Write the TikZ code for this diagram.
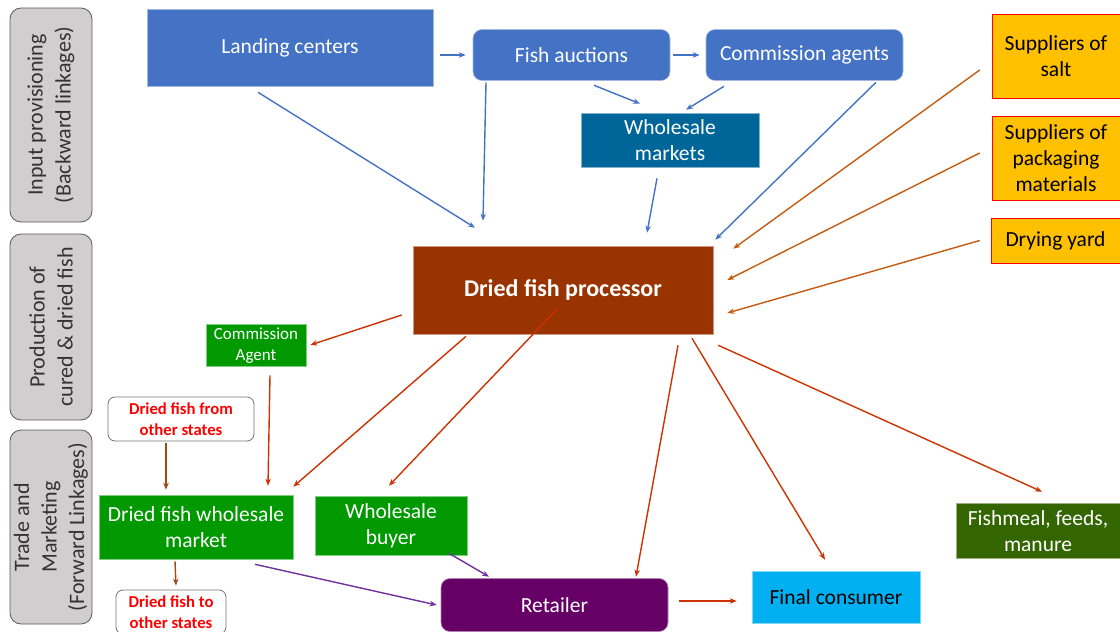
\documentclass[tikz,border=0pt]{standalone}
\usepackage{fontspec}
\setmainfont{Carlito}
\usetikzlibrary{arrows.meta}
\definecolor{stagegray}{HTML}{D0CECE}
\definecolor{ppblue}{HTML}{4472C4}
\definecolor{tealblue}{HTML}{00669A}
\definecolor{gold}{HTML}{FFC000}
\definecolor{leafgreen}{HTML}{009900}
\definecolor{olivegreen}{HTML}{336600}
\definecolor{plum}{HTML}{660066}
\definecolor{skyblue}{HTML}{00B0F0}
\definecolor{rust}{HTML}{993300}
\definecolor{supplyorange}{HTML}{C55A11}
\definecolor{outred}{HTML}{CC3300}
\definecolor{tradebrown}{HTML}{9C4A1A}
\definecolor{tradepurple}{HTML}{7030A0}
\begin{document}
\begin{tikzpicture}[x=1pt, y=-1pt, >={Stealth[length=7pt,width=5.5pt]},
  stage/.style={rotate=90, draw=black!65, fill=stagegray, rounded corners=11pt, line width=0.8pt,
    inner sep=0pt, minimum height=82pt, align=center, text=black!80, font=\fontsize{22}{28}\selectfont},
  box/.style={inner sep=0pt, align=center, text=white, font=\fontsize{21.5}{26}\selectfont, line width=0.6pt},
  source/.style={box, draw=white!50!#1, fill=#1},
  supply/.style={box, draw=red, fill=gold, text=black},
  otherstate/.style={inner sep=0pt, align=center, draw=black!55, rounded corners=7pt, line width=0.8pt,
    text=red, font=\bfseries\fontsize{16.7}{21}\selectfont},
  flow/.style={->, line width=1.4pt, draw=#1}]
\useasboundingbox (0,0) rectangle (1120,632);
\node[stage, minimum width=214pt] (inp) at (51,115) {Input provisioning\\(Backward linkages)};
\node[stage, minimum width=186pt] (prod) at (51,327) {Production of\\cured \& dried fish};
\node[stage, minimum width=194pt, font=\fontsize{22}{27.5}\selectfont] (trade) at (51,527) {Trade and\\Marketing\\(Forward Linkages)};

\node[source=ppblue, minimum width=286pt, minimum height=77pt] (land) at (290,47.5) {Landing centers};
\node[source=ppblue, rounded corners=9pt, minimum width=197pt, minimum height=51pt] (auct) at (571.5,55) {Fish auctions};
\node[source=ppblue, rounded corners=9pt, minimum width=197pt, minimum height=51pt] (comm) at (804.5,55) {Commission agents};
\node[source=tealblue, minimum width=178pt, minimum height=54pt] (whm) at (670,140.5) {Wholesale\\markets};
\node[supply, minimum width=128pt, minimum height=84pt] (salt) at (1056,56.5) {Suppliers of\\salt};
\node[supply, minimum width=128pt, minimum height=84pt] (pack) at (1056,158) {Suppliers of\\packaging\\materials};
\node[supply, minimum width=129pt, minimum height=45pt] (yard) at (1055.5,241) {Drying yard};
\node[source=rust, minimum width=300pt, minimum height=88pt, font=\bfseries\fontsize{24}{29}\selectfont] (proc) at (563,290) {Dried fish processor};
\node[source=leafgreen, minimum width=100pt, minimum height=42pt, font=\fontsize{17}{21}\selectfont] (cagent) at (256,345.5) {Commission\\Agent};
\node[otherstate, minimum width=146pt, minimum height=44pt] (dfrom) at (181,419) {Dried fish from\\other states};
\node[source=leafgreen, minimum width=194pt, minimum height=64pt] (dfwm) at (196,527.5) {Dried fish wholesale\\market};
\node[source=leafgreen, minimum width=152pt, minimum height=59pt] (wbuy) at (391,526) {Wholesale\\buyer};
\node[otherstate, minimum width=110pt, minimum height=44pt] (dto) at (171,612) {Dried fish to\\other states};
\node[source=plum, rounded corners=9pt, minimum width=227pt, minimum height=53pt] (ret) at (554.5,605) {Retailer};
\node[source=skyblue, text=black, minimum width=168pt, minimum height=52pt] (final) at (836,597.5) {Final consumer};
\node[source=olivegreen, minimum width=164pt, minimum height=55pt] (fmeal) at (1038,531) {Fishmeal, feeds,\\manure};

\draw[flow=ppblue] ([shift={(7,7.5)}]land.east) -- ([xshift=-7pt]auct.west);
\draw[flow=ppblue] ([xshift=3pt]auct.east) -- ([xshift=-6pt]comm.west);
\draw[flow=ppblue] ([shift={(-32,6)}]land.south) -- ([shift={(-88,-18)}]proc.north);
\draw[flow=ppblue] ([shift={(-85.5,1.5)}]auct.south) -- ([shift={(-80,-25)}]proc.north);
\draw[flow=ppblue] ([shift={(22.5,4.5)}]auct.south) -- ([shift={(-30,-9.5)}]whm.north);
\draw[flow=ppblue] ([shift={(-80.5,5.5)}]comm.south) -- ([shift={(16,-3.5)}]whm.north);
\draw[flow=ppblue] ([shift={(-13,10.5)}]whm.south) -- ([shift={(84,-13)}]proc.north);
\draw[flow=ppblue] ([shift={(71.5,1.5)}]comm.south) -- ([shift={(2,-6)}]proc.north east);
\draw[flow=supplyorange] ([shift={(-12,13.5)}]salt.west) -- ([shift={(20,3)}]proc.north east);
\draw[flow=supplyorange] ([shift={(-12,-5)}]pack.west) -- ([shift={(14,-10)}]proc.east);
\draw[flow=supplyorange] ([shift={(-11,-0.5)}]yard.west) -- ([shift={(14,23)}]proc.east);
\draw[flow=outred] ([shift={(-11,25)}]proc.west) -- ([shift={(4,-0.5)}]cagent.east);
\draw[flow=outred] ([shift={(-97,2)}]proc.south) -- ([shift={(0,-8.5)}]dfwm.north east);
\draw[flow=outred] ([shift={(-6,19)}]proc.center) -- ([shift={(-2,-10.5)}]wbuy.north);
\draw[flow=outred] ([shift={(115,11)}]proc.south) -- ([shift={(81.5,-1.5)}]ret.north);
\draw[flow=outred] ([shift={(129,4)}]proc.south) -- ([shift={(-11,-11.5)}]final.north);
\draw[flow=outred] ([shift={(5,11)}]proc.south east) -- ([shift={(4,-11.5)}]fmeal.north);
\draw[flow=outred] ([shift={(14,8.5)}]cagent.south) -- ([shift={(72,-9.5)}]dfwm.north);
\draw[flow=outred] ([shift={(11,-4)}]ret.east) -- ([shift={(-15,3.5)}]final.west);
\draw[flow=tradebrown] ([shift={(-15,2)}]dfrom.south) -- ([shift={(-30,-5.5)}]dfwm.north);
\draw[flow=tradebrown] ([shift={(-21,1.5)}]dfwm.south) -- ([shift={(5,-4)}]dto.north);
\draw[flow=tradepurple] ([shift={(59,4.5)}]dfwm.south) -- ([shift={(-4,0)}]ret.west);
\draw[flow=tradepurple] ([shift={(58,-2.5)}]wbuy.south) -- ([shift={(-65.5,-1.5)}]ret.north);
\end{tikzpicture}
\end{document}
